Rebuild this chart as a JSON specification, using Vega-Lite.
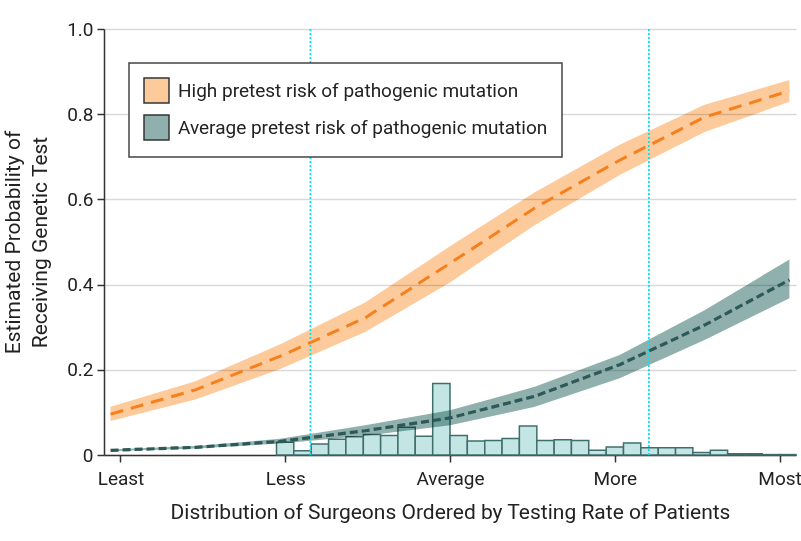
{
  "$schema": "https://vega.github.io/schema/vega-lite/v6.json",
  "width": 692,
  "height": 426,
  "autosize": {"type": "none"},
  "padding": {"left": 104, "top": 29, "right": 5, "bottom": 86},
  "background": "white",
  "config": {
    "view": {"stroke": null},
    "font": "Roboto",
    "axis": {"labelFont": "Roboto", "titleFont": "Roboto"},
    "legend": {"labelFont": "Roboto"}
  },
  "datasets": {
    "curves": [
      {"series": "High pretest risk of pathogenic mutation", "x": -0.06, "est": 0.096, "lo": 0.080, "hi": 0.113},
      {"series": "High pretest risk of pathogenic mutation", "x": 0.455, "est": 0.153, "lo": 0.130, "hi": 0.173},
      {"series": "High pretest risk of pathogenic mutation", "x": 0.97, "est": 0.232, "lo": 0.202, "hi": 0.260},
      {"series": "High pretest risk of pathogenic mutation", "x": 1.485, "est": 0.322, "lo": 0.289, "hi": 0.358},
      {"series": "High pretest risk of pathogenic mutation", "x": 2.0, "est": 0.450, "lo": 0.405, "hi": 0.490},
      {"series": "High pretest risk of pathogenic mutation", "x": 2.515, "est": 0.580, "lo": 0.540, "hi": 0.617},
      {"series": "High pretest risk of pathogenic mutation", "x": 3.03, "est": 0.692, "lo": 0.657, "hi": 0.728},
      {"series": "High pretest risk of pathogenic mutation", "x": 3.545, "est": 0.793, "lo": 0.758, "hi": 0.822},
      {"series": "High pretest risk of pathogenic mutation", "x": 4.06, "est": 0.855, "lo": 0.829, "hi": 0.880},
      {"series": "Average pretest risk of pathogenic mutation", "x": -0.06, "est": 0.011, "lo": 0.009, "hi": 0.013},
      {"series": "Average pretest risk of pathogenic mutation", "x": 0.455, "est": 0.018, "lo": 0.015, "hi": 0.021},
      {"series": "Average pretest risk of pathogenic mutation", "x": 0.97, "est": 0.032, "lo": 0.027, "hi": 0.038},
      {"series": "Average pretest risk of pathogenic mutation", "x": 1.485, "est": 0.057, "lo": 0.045, "hi": 0.070},
      {"series": "Average pretest risk of pathogenic mutation", "x": 2.0, "est": 0.087, "lo": 0.070, "hi": 0.105},
      {"series": "Average pretest risk of pathogenic mutation", "x": 2.515, "est": 0.138, "lo": 0.113, "hi": 0.160},
      {"series": "Average pretest risk of pathogenic mutation", "x": 3.03, "est": 0.212, "lo": 0.180, "hi": 0.235},
      {"series": "Average pretest risk of pathogenic mutation", "x": 3.545, "est": 0.305, "lo": 0.270, "hi": 0.340},
      {"series": "Average pretest risk of pathogenic mutation", "x": 4.06, "est": 0.411, "lo": 0.368, "hi": 0.459}
    ],
    "bars": [
      {"x0": 0.947, "x1": 1.052, "value": 0.030},
      {"x0": 1.052, "x1": 1.158, "value": 0.010},
      {"x0": 1.158, "x1": 1.263, "value": 0.026},
      {"x0": 1.263, "x1": 1.368, "value": 0.037},
      {"x0": 1.368, "x1": 1.474, "value": 0.043},
      {"x0": 1.474, "x1": 1.579, "value": 0.048},
      {"x0": 1.579, "x1": 1.684, "value": 0.046},
      {"x0": 1.684, "x1": 1.789, "value": 0.065},
      {"x0": 1.789, "x1": 1.895, "value": 0.044},
      {"x0": 1.895, "x1": 2.000, "value": 0.168},
      {"x0": 2.000, "x1": 2.105, "value": 0.046},
      {"x0": 2.105, "x1": 2.211, "value": 0.033},
      {"x0": 2.211, "x1": 2.316, "value": 0.034},
      {"x0": 2.316, "x1": 2.421, "value": 0.039},
      {"x0": 2.421, "x1": 2.527, "value": 0.068},
      {"x0": 2.527, "x1": 2.632, "value": 0.034},
      {"x0": 2.632, "x1": 2.737, "value": 0.036},
      {"x0": 2.737, "x1": 2.842, "value": 0.034},
      {"x0": 2.842, "x1": 2.948, "value": 0.011},
      {"x0": 2.948, "x1": 3.053, "value": 0.019},
      {"x0": 3.053, "x1": 3.158, "value": 0.028},
      {"x0": 3.158, "x1": 3.264, "value": 0.017},
      {"x0": 3.264, "x1": 3.369, "value": 0.017},
      {"x0": 3.369, "x1": 3.474, "value": 0.017},
      {"x0": 3.474, "x1": 3.580, "value": 0.006},
      {"x0": 3.580, "x1": 3.685, "value": 0.011},
      {"x0": 3.685, "x1": 3.790, "value": 0.003},
      {"x0": 3.790, "x1": 3.895, "value": 0.003},
      {"x0": 3.895, "x1": 4.001, "value": 0.001},
      {"x0": 4.001, "x1": 4.100, "value": 0.001}
    ],
    "vlines": [
      {"x": 1.153},
      {"x": 3.207}
    ]
  },
  "layer": [
    {
      "data": {"name": "bars"},
      "mark": {"type": "rect", "fill": "#C3E6E5", "stroke": "#3F6F6C", "strokeWidth": 1.5},
      "encoding": {
        "x": {
          "field": "x0", "type": "quantitative",
          "scale": {"domain": [-0.1, 4.1], "nice": false, "zero": false},
          "axis": {
            "values": [0, 1, 2, 3, 4],
            "labelExpr": "['Least','Less','Average','More','Most'][datum.value]",
            "title": "Distribution of Surgeons Ordered by Testing Rate of Patients",
            "grid": false,
            "domainColor": "#333", "domainWidth": 1.5,
            "tickColor": "#333", "tickWidth": 1.5, "tickSize": 7,
            "labelFontSize": 19, "labelPadding": 7, "labelColor": "#222", "labelFlush": false,
            "titleFontSize": 21, "titleFontWeight": "normal", "titleColor": "#222",
            "titleBaseline": "alphabetic", "titleX": 346, "titleY": 63, "titleAlign": "center"
          }
        },
        "x2": {"field": "x1"},
        "y": {
          "field": "value", "type": "quantitative",
          "scale": {"domain": [0, 1], "nice": false},
          "axis": {
            "values": [0, 0.2, 0.4, 0.6, 0.8, 1],
            "labelExpr": "datum.value == 0 ? '0' : format(datum.value, '.1f')",
            "title": ["Estimated Probability of", "Receiving Genetic Test"],
            "grid": true, "gridColor": "#D9D9D9", "gridWidth": 1.5,
            "domainColor": "#333", "domainWidth": 1.5,
            "tickColor": "#333", "tickWidth": 1.5, "tickSize": 7,
            "labelFontSize": 19, "labelPadding": 4, "labelColor": "#222",
            "titleFontSize": 21, "titleFontWeight": "normal", "titleColor": "#222",
            "titleLineHeight": 27.6, "titleBaseline": "alphabetic", "titleAlign": "center",
            "titleAngle": -90, "titleX": -85, "titleY": 213
          }
        },
        "y2": {"datum": 0}
      }
    },
    {
      "data": {"name": "curves"},
      "mark": {"type": "area", "blend": "multiply"},
      "encoding": {
        "x": {"field": "x", "type": "quantitative"},
        "y": {"field": "lo", "type": "quantitative"},
        "y2": {"field": "hi"},
        "color": {
          "field": "series", "type": "nominal",
          "scale": {
            "domain": ["High pretest risk of pathogenic mutation", "Average pretest risk of pathogenic mutation"],
            "range": ["#FDCA9C", "#8FB0AD"]
          },
          "legend": {
            "title": null,
            "orient": "none", "legendX": 25, "legendY": 34,
            "direction": "vertical",
            "symbolType": "square", "symbolSize": 625,
            "symbolStrokeColor": "#333", "symbolStrokeWidth": 1.5, "symbolOpacity": 1,
            "labelFontSize": 19, "labelColor": "#222", "labelOffset": 8, "labelLimit": 0,
            "padding": 14, "rowPadding": 6,
            "strokeColor": "#444", "fillColor": "white",
            "encode": {"legend": {"update": {"strokeWidth": {"value": 1.5}}}}
          }
        }
      }
    },
    {
      "data": {"name": "vlines"},
      "mark": {"type": "rule", "color": "#00E5F5", "strokeDash": [2, 2], "strokeWidth": 1.8},
      "encoding": {"x": {"field": "x", "type": "quantitative"}}
    },
    {
      "data": {"name": "curves"},
      "transform": [{"filter": "datum.series === 'High pretest risk of pathogenic mutation'"}],
      "mark": {"type": "line", "color": "#F5801E", "strokeWidth": 3, "strokeDash": [13, 8]},
      "encoding": {
        "x": {"field": "x", "type": "quantitative"},
        "y": {"field": "est", "type": "quantitative"}
      }
    },
    {
      "data": {"name": "curves"},
      "transform": [{"filter": "datum.series === 'Average pretest risk of pathogenic mutation'"}],
      "mark": {"type": "line", "color": "#2D5957", "strokeWidth": 3.2, "strokeDash": [8, 4]},
      "encoding": {
        "x": {"field": "x", "type": "quantitative"},
        "y": {"field": "est", "type": "quantitative"}
      }
    }
  ]
}
